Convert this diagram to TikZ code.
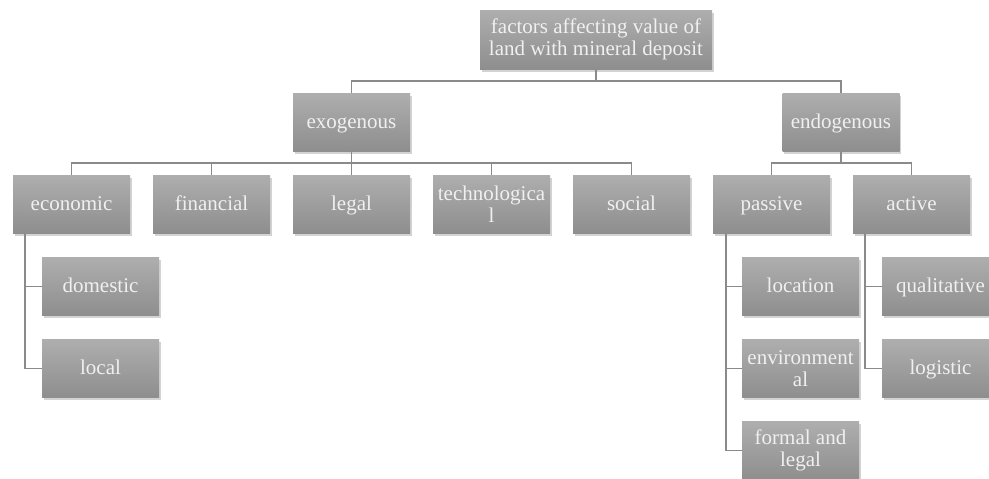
\documentclass[tikz,border=0pt]{standalone}
\usepackage{fontspec}
\setmainfont{Liberation Serif}
\usetikzlibrary{positioning,shadows}

\definecolor{boxtop}{HTML}{AEAEAE}
\definecolor{boxbot}{HTML}{8E8E8E}
\definecolor{linkgray}{HTML}{8A8A8A}

\tikzset{
  factor/.style={rectangle, top color=boxtop, bottom color=boxbot,
    text=white!94!black, minimum width=117pt, minimum height=58pt,
    inner sep=1pt, align=center, font=\fontsize{21}{22}\selectfont,
    text height=17pt, text depth=5pt,
    drop shadow={shadow xshift=1.5pt, shadow yshift=-2.5pt, opacity=0.35}},
  wrapped/.style={text height={}, text depth={}},
  link/.style={draw=linkgray, line width=1.8pt}
}

\begin{document}
\begin{tikzpicture}[x=1pt,y=1pt,node distance=82pt and 140pt,on grid]
      \path[use as bounding box,clip] (0,0) rectangle (989,-479);

      \node[factor,wrapped,minimum width=232pt,minimum height=59pt] (root) at (596,-39.5)
            {factors affecting value of\\land with mineral deposit};
      \node[factor] (exo)  at (351.5,-122) {exogenous};
      \node[factor] (endo) at (841,-122)   {endogenous};

      \node[factor] (eco)  at (71.5,-204)  {economic};
      \node[factor] (fin)  [right=of eco]  {financial};
      \node[factor] (leg)  [right=of fin]  {legal};
      \node[factor,wrapped] (tech) [right=of leg] {technologica\\l};
      \node[factor] (soc)  [right=of tech] {social};
      \node[factor] (pas)  [right=of soc]  {passive};
      \node[factor] (act)  [right=of pas]  {active};

      \node[factor] (dom)  [below right=82.5pt and 29pt of eco] {domestic};
      \node[factor] (loc)  [below=of dom]  {local};
      \node[factor] (place) [below right=82.5pt and 29pt of pas] {location};
      \node[factor,wrapped] (env)  [below=of place] {environment\\al};
      \node[factor,wrapped] (form) [below=of env]  {formal and\\legal};
      \node[factor] (qual) [below right=82.5pt and 29pt of act] {qualitative};
      \node[factor] (logi) [below=of qual] {logistic};

      % root to exogenous / endogenous
      \draw[link] (root.south) -- ++(0,-12pt) -| (exo);
      \draw[link] (root.south) -- ++(0,-12pt) -| (endo);

      % exogenous branch
      \foreach \n in {eco,fin,leg,tech,soc}
        \draw[link] (exo.south) -- ++(0,-11.5pt) -| (\n);
      % endogenous branch
      \foreach \n in {pas,act}
        \draw[link] (endo.south) -- ++(0,-11.5pt) -| (\n);

      % side lists
      \draw[link] ([xshift=12pt]eco.south west) |- (dom.west);
      \draw[link] ([xshift=12pt]eco.south west) |- (loc.west);
      \foreach \n in {place,env,form}
        \draw[link] ([xshift=13pt]pas.south west) |- (\n.west);
      \foreach \n in {qual,logi}
        \draw[link] ([xshift=12pt]act.south west) |- (\n.west);
    \end{tikzpicture}
\end{document}
